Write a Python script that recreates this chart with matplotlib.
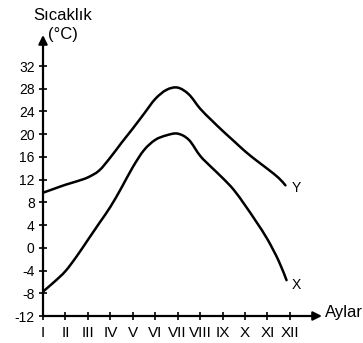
import matplotlib
matplotlib.use("Agg")
import matplotlib.pyplot as plt
from matplotlib.path import Path
from matplotlib.patches import PathPatch

plt.rcParams['font.family'] = ['Liberation Sans', 'DejaVu Sans']

# month positions (1 = I ... 12 = XII) and temperatures
ay_y = [1, 1.5, 2, 2.5, 3, 3.5, 4, 4.5, 5, 5.5, 6, 6.5, 7, 7.5, 8, 8.5, 9, 9.5, 10, 10.5, 11, 11.5, 11.8]
sicaklik_y = [9.7, 10.4, 11.1, 11.7, 12.4, 13.6, 15.9, 18.5, 21.0, 23.6, 26.2, 27.8, 28.2, 27.0,
              24.5, 22.5, 20.6, 18.8, 17.0, 15.4, 13.9, 12.3, 11.0]

ay_x = [1, 1.5, 2, 2.5, 3, 3.5, 4, 4.5, 5, 5.5, 6, 6.5, 7, 7.5, 8, 8.5, 9, 9.5, 10, 10.5, 11, 11.5, 11.85]
sicaklik_x = [-7.7, -6.0, -4.1, -1.5, 1.4, 4.3, 7.2, 10.6, 14.2, 17.2, 19.0, 19.8, 20.1, 19.0,
              16.2, 14.2, 12.3, 10.2, 7.5, 4.6, 1.5, -2.3, -5.7]

aylar = ['I', 'II', 'III', 'IV', 'V', 'VI', 'VII', 'VIII', 'IX', 'X', 'XI', 'XII']
y_ticks = list(range(-12, 33, 4))


def egri(ax, xs, ys):
    # smooth bezier path through the read points
    pts = list(zip(xs, ys))
    verts = [pts[0]]
    codes = [Path.MOVETO]
    for i in range(len(pts) - 1):
        p0 = pts[i - 1] if i > 0 else pts[i]
        p1, p2 = pts[i], pts[i + 1]
        p3 = pts[i + 2] if i + 2 < len(pts) else pts[i + 1]
        c1 = (p1[0] + (p2[0] - p0[0]) / 6, p1[1] + (p2[1] - p0[1]) / 6)
        c2 = (p2[0] - (p3[0] - p1[0]) / 6, p2[1] - (p3[1] - p1[1]) / 6)
        verts += [c1, c2, p2]
        codes += [Path.CURVE4] * 3
    ax.add_patch(PathPatch(Path(verts, codes), fill=False, edgecolor='black', lw=1.8,
                           capstyle='round', joinstyle='round'))


W, H = 363, 343
fig = plt.figure(figsize=(W / 100, H / 100), dpi=100)
ax = fig.add_axes([43 / W, 27 / H, 279 / W, 281 / H])
ax.set_xlim(1, 13.43)
ax.set_ylim(-12, 37.46)

for s in ax.spines.values():
    s.set_visible(False)

# axes with arrows
ax.annotate('', xy=(1, 0), xytext=(0, 0), xycoords='axes fraction',
            arrowprops=dict(arrowstyle='-|>', color='black', lw=1.6, mutation_scale=13,
                            shrinkA=0, shrinkB=0))
ax.annotate('', xy=(0, 1), xytext=(0, 0), xycoords='axes fraction',
            arrowprops=dict(arrowstyle='-|>', color='black', lw=1.6, mutation_scale=13,
                            shrinkA=0, shrinkB=0))

egri(ax, ay_y, sicaklik_y)
egri(ax, ay_x, sicaklik_x)

ax.text(ay_y[-1] + 0.3, sicaklik_y[-1] - 0.4, 'Y', fontsize=10, ha='left', va='center')
ax.text(ay_x[-1] + 0.25, sicaklik_x[-1] - 0.9, 'X', fontsize=10, ha='left', va='center')

ax.set_xticks(range(1, 13))
ax.set_xticklabels(aylar, fontsize=11)
ax.set_yticks(y_ticks)
ax.set_yticklabels([str(v) for v in y_ticks], fontsize=10)
ax.tick_params(axis='both', direction='inout', length=6, width=1.2, color='black')
ax.tick_params(axis='x', pad=4)
ax.tick_params(axis='y', pad=3)

fig.text(63 / W, 1 - 15 / H, 'Sıcaklık', fontsize=12, ha='center', va='center')
fig.text(63 / W, 1 - 35 / H, '(°C)', fontsize=12, ha='center', va='center')
fig.text(325 / W, 1 - 313 / H, 'Aylar', fontsize=12, ha='left', va='center')

fig.savefig('out.png', dpi=100)
